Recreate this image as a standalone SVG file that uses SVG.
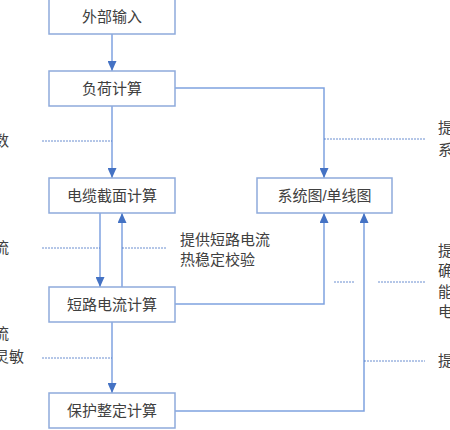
<svg xmlns="http://www.w3.org/2000/svg" width="450" height="430" viewBox="0 0 450 430">
<defs>
<marker id="arr" markerWidth="10" markerHeight="9" refX="10" refY="4.5" orient="auto" markerUnits="userSpaceOnUse">
<path d="M0,0 L10,4.5 L0,9 z" fill="#4472c4"/>
</marker>
<style>
.box{fill:#fff;stroke:#8eaadb;stroke-width:1.5}
.lbl{font-family:"Liberation Sans","Noto Sans CJK SC",sans-serif;font-size:15px;fill:#404040;text-anchor:middle}
.ann{font-family:"Liberation Sans","Noto Sans CJK SC",sans-serif;font-size:15px;fill:#404040}
.ln{fill:none;stroke:#7fa2e0;stroke-width:1.5}
.dash{fill:none;stroke:#4472c4;stroke-width:0.8;stroke-dasharray:2,1}
</style>
</defs>
<rect width="450" height="430" fill="#fff"/>
<g id="connectors">
<path class="ln" d="M112,34 V71" marker-end="url(#arr)"/>
<path class="ln" d="M112,106 V178" marker-end="url(#arr)"/>
<path class="ln" d="M175,88 H324 V178" marker-end="url(#arr)"/>
<path class="ln" d="M100,213 V287" marker-end="url(#arr)"/>
<path class="ln" d="M122,287 V213" marker-end="url(#arr)"/>
<path class="ln" d="M175,304 H324 V213" marker-end="url(#arr)"/>
<path class="ln" d="M112,322 V393" marker-end="url(#arr)"/>
<path class="ln" d="M175,411 H364 V213" marker-end="url(#arr)"/>
</g>
<g id="annotations">
<path class="dash" d="M42,141 H112"/>
<path class="dash" d="M324,139 H425"/>
<path class="dash" d="M42,248 H100"/>
<path class="dash" d="M122,248 H167"/>
<path class="dash" d="M42,358 H112"/>
<path class="dash" d="M334,282 H355"/>
<path class="dash" d="M378,282 H425"/>
<path class="dash" d="M364,361 H425"/>
<text class="ann" x="-6" y="146">数</text>
<text class="ann" x="-6" y="253">流</text>
<text class="ann" x="-6" y="339">流</text>
<text class="ann" x="-6" y="362">灵敏</text>
<text class="ann" x="180" y="245">提供短路电流</text>
<text class="ann" x="180" y="265">热稳定校验</text>
<text class="ann" x="438" y="133">提</text>
<text class="ann" x="438" y="155">系</text>
<text class="ann" x="438" y="256">提</text>
<text class="ann" x="438" y="276">确</text>
<text class="ann" x="438" y="297">能</text>
<text class="ann" x="438" y="317">电</text>
<text class="ann" x="438" y="366">提</text>
</g>
<g id="n1"><rect class="box" x="49" y="-1" width="126" height="35"/><text class="lbl" x="112" y="22">外部输入</text></g>
<g id="n2"><rect class="box" x="49" y="71" width="126" height="35"/><text class="lbl" x="112" y="94">负荷计算</text></g>
<g id="n3"><rect class="box" x="49" y="178" width="126" height="35"/><text class="lbl" x="112" y="201">电缆截面计算</text></g>
<g id="n4"><rect class="box" x="257" y="178" width="135" height="35"/><text class="lbl" x="324.5" y="201">系统图/单线图</text></g>
<g id="n5"><rect class="box" x="49" y="287" width="126" height="35"/><text class="lbl" x="112" y="310">短路电流计算</text></g>
<g id="n6"><rect class="box" x="49" y="393" width="126" height="35"/><text class="lbl" x="112" y="416">保护整定计算</text></g>
</svg>
